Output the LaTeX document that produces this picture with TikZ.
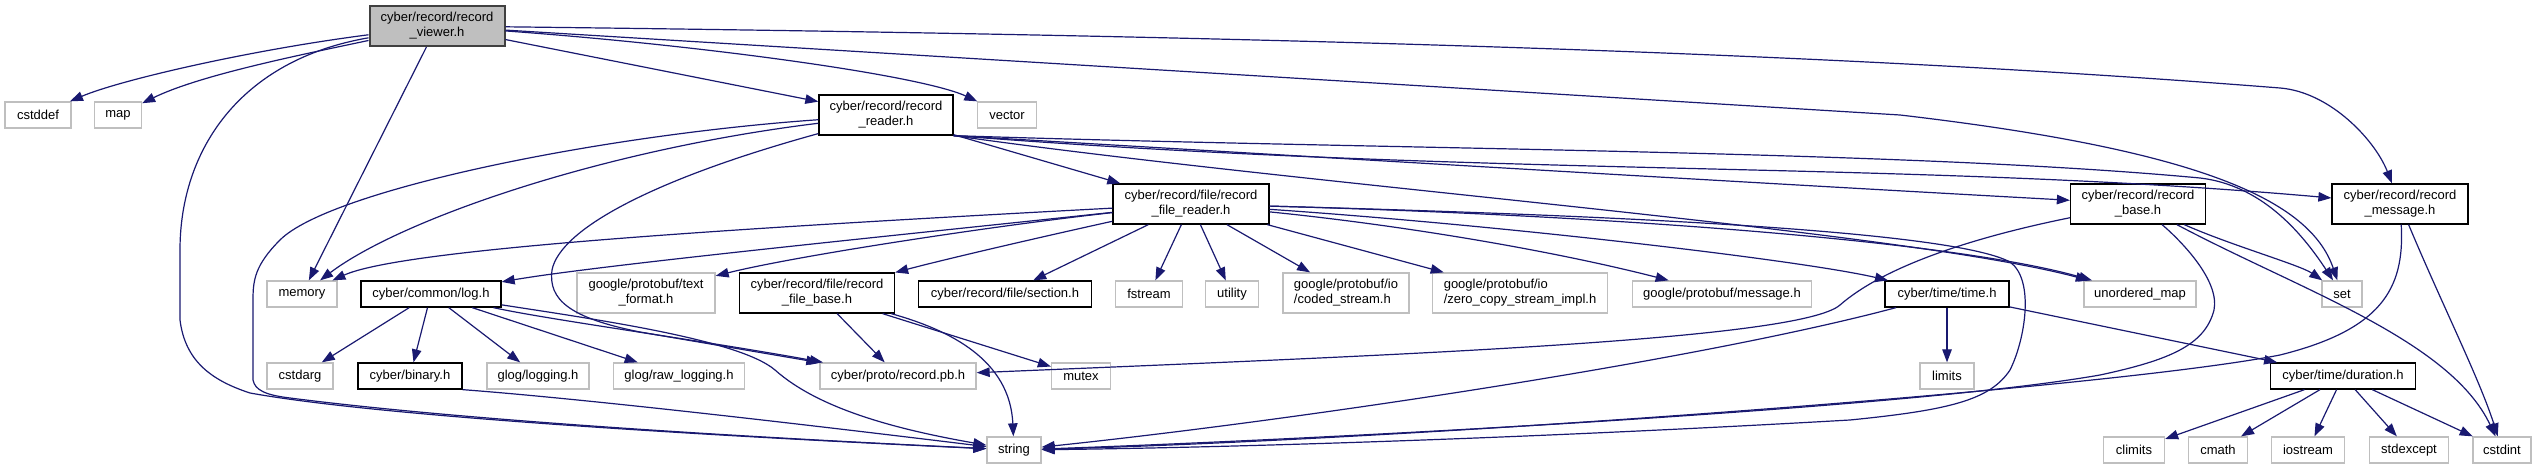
\documentclass[tikz,border=0pt]{standalone}
\usepackage{fontspec}
\setmainfont{Liberation Sans}
\usetikzlibrary{arrows.meta}

\begin{document}
\begin{tikzpicture}[x=1bp, y=-1bp,
    fileNode/.style={draw=borderColour, fill=white, line width=1.3bp, align=center,
        inner sep=0pt, minimum height=26bp, font=\fontsize{13bp}{15bp}\selectfont},
    sysNode/.style={fileNode, draw=sysColour},
    twoLines/.style={minimum height=40bp},
    include/.style={draw=edgeColour, line width=1.2bp, -{Triangle[length=13bp, width=9.5bp]}}]
    \definecolor{borderColour}{HTML}{000000}
    \definecolor{sysColour}{HTML}{BFBFBF}
    \definecolor{rootFill}{HTML}{BFBFBF}
    \definecolor{rootBorder}{HTML}{404040}
    \definecolor{edgeColour}{HTML}{191970}

    \useasboundingbox (0,0) rectangle (2537,469);

    % Top row
    \node[fileNode, twoLines, fill=rootFill, draw=rootBorder, line width=2bp, minimum width=135bp] (viewer) at (437,26) {cyber/record/record\\\_viewer.h};
    \node[sysNode, minimum width=66bp] (cstddef) at (38,115) {cstddef};
    \node[sysNode, minimum width=47bp] (map) at (118,115) {map};
    \node[fileNode, twoLines, minimum width=134bp] (reader) at (886,115) {cyber/record/record\\\_reader.h};
    \node[sysNode, minimum width=59bp] (vector) at (1007,115) {vector};

    % Second row
    \node[fileNode, twoLines, minimum width=156bp] (filereader) at (1191,204) {cyber/record/file/record\\\_file\_reader.h};
    \node[fileNode, twoLines, minimum width=135bp] (base) at (2138,204) {cyber/record/record\\\_base.h};
    \node[fileNode, twoLines, minimum width=136bp] (message) at (2400,204) {cyber/record/record\\\_message.h};

    % Third row
    \node[sysNode, minimum width=70bp] (memory) at (302,294) {memory};
    \node[fileNode, minimum width=140bp] (log) at (431,294) {cyber/common/log.h};
    \node[sysNode, twoLines, minimum width=138bp] (textfmt) at (646,293) {google/protobuf/text\\\_format.h};
    \node[fileNode, twoLines, minimum width=155bp] (filebase) at (817,293) {cyber/record/file/record\\\_file\_base.h};
    \node[fileNode, minimum width=173bp] (section) at (1005,294) {cyber/record/file/section.h};
    \node[sysNode, minimum width=67bp] (fstream) at (1149,294) {fstream};
    \node[sysNode, minimum width=53bp] (utility) at (1232,294) {utility};
    \node[sysNode, twoLines, align=left, minimum width=126bp] (coded) at (1346,293) {google/protobuf/io\\/coded\_stream.h};
    \node[sysNode, twoLines, align=left, minimum width=175bp] (zerocopy) at (1520,293) {google/protobuf/io\\/zero\_copy\_stream\_impl.h};
    \node[sysNode, minimum width=179bp] (protomsg) at (1722,294) {google/protobuf/message.h};
    \node[fileNode, minimum width=124bp] (time) at (1947,294) {cyber/time/time.h};
    \node[sysNode, minimum width=112bp] (umap) at (2140,294) {unordered\_map};
    \node[sysNode, minimum width=40bp] (set) at (2342,294) {set};

    % Fourth row
    \node[sysNode, minimum width=66bp] (cstdarg) at (300,376) {cstdarg};
    \node[fileNode, minimum width=104bp] (binary) at (410,376) {cyber/binary.h};
    \node[sysNode, minimum width=102bp] (logging) at (538,376) {glog/logging.h};
    \node[sysNode, minimum width=131bp] (rawlog) at (679,376) {glog/raw\_logging.h};
    \node[sysNode, minimum width=156bp] (recordpb) at (898,376) {cyber/proto/record.pb.h};
    \node[sysNode, minimum width=59bp] (mutex) at (1081,376) {mutex};
    \node[sysNode, minimum width=54bp] (limits) at (1947,376) {limits};
    \node[fileNode, minimum width=145bp] (duration) at (2343,376) {cyber/time/duration.h};

    % Bottom row
    \node[sysNode, minimum width=54bp] (string) at (1014,450) {string};
    \node[sysNode, minimum width=61bp] (climits) at (2134,450) {climits};
    \node[sysNode, minimum width=59bp] (cmath) at (2218,450) {cmath};
    \node[sysNode, minimum width=73bp] (iostream) at (2308,450) {iostream};
    \node[sysNode, minimum width=79bp] (stdexcept) at (2409,450) {stdexcept};
    \node[sysNode, minimum width=58bp] (cstdint) at (2502,450) {cstdint};

    % record_viewer.h
    \draw[include] (viewer) .. controls (250,50) and (120,80) .. (cstddef);
    \draw[include] (viewer) .. controls (300,55) and (200,75) .. (map);
    \draw[include] (viewer) .. controls (240,60) and (180,150) .. (180,250) -- (180,320)
        .. controls (185,360) and (210,380) .. (250,393) .. controls (400,420) and (800,440) .. (string);
    \draw[include] (viewer) -- (memory);
    \draw[include] (viewer) -- (reader);
    \draw[include] (viewer) .. controls (700,45) and (920,75) .. (vector);
    \draw[include] (viewer) -- (1900,115) .. controls (2200,150) and (2310,200) .. (set);
    \draw[include] (viewer) .. controls (1200,35) and (1800,50) .. (2280,88) .. controls (2330,92) and (2375,140) .. (message);

    % record_reader.h
    \draw[include] (reader) .. controls (600,150) and (400,220) .. (memory);
    \draw[include] (reader) .. controls (600,135) and (330,190) .. (280,240) .. controls (255,265) and (253,280) .. (253,300)
        -- (253,380) .. controls (255,390) and (265,395) .. (290,398) .. controls (500,425) and (850,442) .. (string);
    \draw[include] (reader) .. controls (650,180) and (560,230) .. (552,270) .. controls (548,300) and (570,318) .. (640,332) -- (recordpb);
    \draw[include] (reader) -- (filereader);
    \draw[include] (reader.south east) .. controls (1400,150) and (1900,150) .. (2200,178) .. controls (2260,185) and (2300,230) .. (set);
    \draw[include] (reader.south east) .. controls (1500,178) and (1900,160) .. (message);
    \draw[include] (reader.south east) .. controls (1200,150) and (1700,180) .. (base);
    \draw[include] (reader.south east) .. controls (1300,185) and (1900,230) .. (umap);

    % record_file_reader.h
    \draw[include] (filereader) .. controls (700,230) and (400,250) .. (memory);
    \draw[include] (filereader) .. controls (900,235) and (600,265) .. (log);
    \draw[include] (filereader) .. controls (1000,225) and (800,255) .. (textfmt);
    \draw[include] (filereader) .. controls (1050,235) and (950,258) .. (filebase);
    \foreach \dst in {section, fstream, utility, coded, zerocopy}
        \draw[include] (filereader) -- (\dst);
    \draw[include] (filereader) .. controls (1400,225) and (1550,250) .. (protomsg);
    \draw[include] (filereader) .. controls (1500,225) and (1800,260) .. (time);
    \draw[include] (filereader) .. controls (1600,215) and (1950,240) .. (umap);
    \draw[include] (filereader) .. controls (1600,215) and (1950,230) .. (2010,262) .. controls (2035,280) and (2025,340) .. (2010,370)
        .. controls (1990,400) and (1950,410) .. (1850,420) .. controls (1500,440) and (1200,448) .. (string);

    % record_base.h
    \draw[include] (base) .. controls (1960,240) and (1880,270) .. (1840,305) .. controls (1800,340) and (1400,355) .. (recordpb);
    \draw[include] (base) .. controls (2230,245) and (2300,265) .. (set);
    \draw[include] (base) .. controls (2180,240) and (2220,280) .. (2214,310) .. controls (2205,345) and (2170,360) .. (2100,375)
        .. controls (1900,410) and (1300,440) .. (string);
    \draw[include] (base) .. controls (2300,290) and (2450,340) .. (cstdint);

    % record_message.h
    \draw[include] (message) .. controls (2405,290) and (2380,330) .. (2280,355) .. controls (2100,390) and (1400,440) .. (string);
    \draw[include] (message) .. controls (2440,300) and (2480,380) .. (cstdint);

    % log.h and binary.h
    \foreach \dst in {cstdarg, binary, logging, rawlog}
        \draw[include] (log) -- (\dst);
    \draw[include] (log) .. controls (550,320) and (700,340) .. (recordpb);
    \draw[include] (log) .. controls (600,320) and (740,340) .. (775,370) .. controls (820,410) and (900,430) .. (string);
    \draw[include] (binary.south east) .. controls (600,400) and (850,430) .. (string);

    % record_file_base.h
    \draw[include] (filebase) -- (recordpb);
    \draw[include] (filebase) .. controls (950,330) and (1010,360) .. (string);
    \draw[include] (filebase) -- (mutex);

    % time.h and duration.h
    \draw[include] (time) -- (limits);
    \draw[include] (time) -- (duration);
    \draw[include] (time) .. controls (1700,360) and (1300,420) .. (string);
    \foreach \dst in {climits, cmath, iostream, stdexcept, cstdint}
        \draw[include] (duration) -- (\dst);
\end{tikzpicture}
\end{document}
